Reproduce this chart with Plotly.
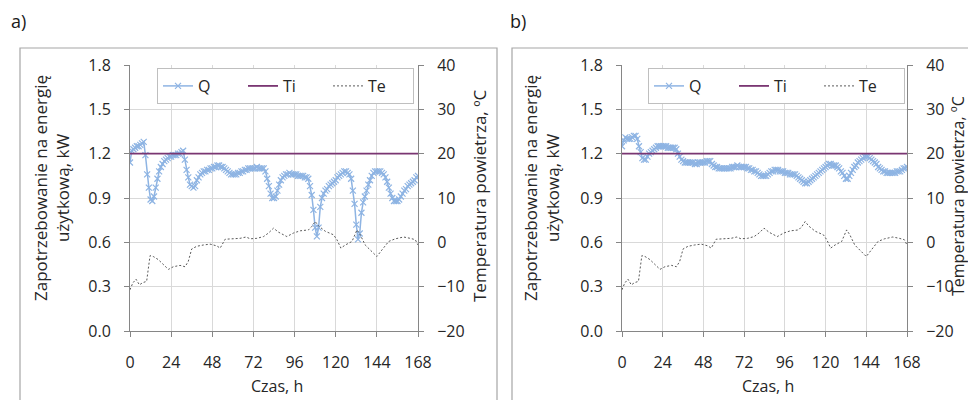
import plotly.graph_objects as go

hours = list(range(0, 169))
x_ticks = [0, 24, 48, 72, 96, 120, 144, 168]

q_a = [1.14, 1.22, 1.23, 1.24, 1.25, 1.25, 1.26, 1.27, 1.28, 1.19,
       1.06, 0.97, 0.89, 0.88, 0.91, 0.97, 1.03, 1.08, 1.11, 1.13,
       1.15, 1.16, 1.17, 1.18, 1.18, 1.19, 1.19, 1.19, 1.20, 1.20,
       1.21, 1.22, 1.16, 1.09, 1.04, 0.99, 0.98, 0.97, 0.98, 1.02,
       1.04, 1.06, 1.07, 1.08, 1.08, 1.09, 1.09, 1.10, 1.10, 1.11,
       1.11, 1.12, 1.12, 1.11, 1.11, 1.10, 1.09, 1.08, 1.07, 1.06,
       1.06, 1.06, 1.06, 1.07, 1.07, 1.08, 1.08, 1.09, 1.09, 1.10,
       1.10, 1.10, 1.10, 1.10, 1.11, 1.10, 1.10, 1.10, 1.10, 1.08,
       1.03, 0.98, 0.93, 0.90, 0.90, 0.91, 0.95, 0.99, 1.02, 1.04,
       1.05, 1.06, 1.06, 1.07, 1.06, 1.06, 1.06, 1.06, 1.05, 1.05,
       1.05, 1.05, 1.04, 1.04, 1.03, 0.98, 0.92, 0.82, 0.70, 0.64,
       0.70, 0.84, 0.90, 0.93, 0.95, 0.96, 0.98, 0.99, 1.00, 1.01,
       1.02, 1.04, 1.05, 1.06, 1.07, 1.08, 1.08, 1.07, 1.06, 1.03,
       0.95, 0.86, 0.72, 0.62, 0.66, 0.80, 0.87, 0.91, 0.95, 0.99,
       1.02, 1.05, 1.07, 1.08, 1.08, 1.08, 1.08, 1.07, 1.06, 1.04,
       1.01, 0.97, 0.93, 0.90, 0.88, 0.88, 0.88, 0.89, 0.91, 0.93,
       0.95, 0.96, 0.98, 0.99, 1.00, 1.01, 1.02, 1.04, 1.05]

q_b = [1.25, 1.29, 1.31, 1.30, 1.30, 1.30, 1.31, 1.32, 1.32, 1.30,
       1.25, 1.21, 1.17, 1.16, 1.16, 1.18, 1.20, 1.21, 1.22, 1.23,
       1.24, 1.25, 1.25, 1.25, 1.25, 1.25, 1.25, 1.24, 1.24, 1.24,
       1.24, 1.24, 1.23, 1.20, 1.18, 1.16, 1.15, 1.14, 1.14, 1.14,
       1.14, 1.14, 1.14, 1.13, 1.13, 1.14, 1.14, 1.14, 1.14, 1.14,
       1.15, 1.15, 1.15, 1.13, 1.12, 1.11, 1.11, 1.10, 1.10, 1.10,
       1.10, 1.10, 1.10, 1.10, 1.10, 1.11, 1.11, 1.11, 1.12, 1.11,
       1.11, 1.11, 1.11, 1.11, 1.10, 1.10, 1.09, 1.09, 1.08, 1.08,
       1.07, 1.06, 1.05, 1.05, 1.05, 1.05, 1.06, 1.07, 1.08, 1.08,
       1.09, 1.09, 1.09, 1.08, 1.08, 1.08, 1.07, 1.07, 1.07, 1.06,
       1.06, 1.06, 1.06, 1.05, 1.04, 1.03, 1.02, 1.01, 1.00, 1.00,
       1.01, 1.02, 1.03, 1.04, 1.05, 1.06, 1.07, 1.08, 1.09, 1.10,
       1.11, 1.12, 1.13, 1.13, 1.12, 1.12, 1.12, 1.11, 1.10, 1.08,
       1.07, 1.05, 1.03, 1.03, 1.05, 1.07, 1.09, 1.11, 1.12, 1.14,
       1.15, 1.16, 1.17, 1.18, 1.18, 1.18, 1.17, 1.16, 1.15, 1.14,
       1.13, 1.11, 1.10, 1.09, 1.08, 1.08, 1.07, 1.07, 1.07, 1.07,
       1.07, 1.07, 1.08, 1.08, 1.08, 1.09, 1.10, 1.10, 1.11]

te_hours = [0, 1.6, 3.5, 5.5, 7.4, 9.7, 11.7, 13.6, 16.5, 19.5, 22.4, 25.3,
            29.2, 32.1, 34, 36, 38.9, 42.8, 46.7, 50.6, 52.6, 55.5, 60.3,
            64.2, 67.7, 70.1, 74, 77.9, 80.8, 83.7, 86.6, 91.5, 95.4, 99.3,
            104.1, 106.1, 108, 110, 113.9, 118.7, 120.7, 123, 125.6, 129.5,
            132.4, 134.3, 137.2, 141.1, 144, 147, 150.9, 154.8, 159.6,
            163.5, 166.4, 168]
te_vals = [-10.7, -9.2, -8.3, -9.6, -9.1, -8.8, -3.0, -3.2, -3.9, -5.1, -6.1,
           -5.5, -5.2, -5.5, -4.3, -1.5, -0.9, -0.6, -0.4, -0.8, -1.3, 0.7,
           0.8, 0.9, 1.2, 0.8, 0.9, 1.3, 2.1, 3.2, 2.3, 1.3, 2.1, 2.6, 2.8,
           3.6, 4.7, 3.7, 2.5, 1.7, 0.6, -1.3, -0.6, 0.2, 2.8, 1.7, -0.6,
           -2.2, -3.2, -1.7, 0.2, 0.8, 1.2, 0.9, 0.6, -0.6]

ti_hours = [0, 168]
ti_vals = [20, 20]

y1_ticks = [0.0, 0.3, 0.6, 0.9, 1.2, 1.5, 1.8]
y2_ticks = [-20, -10, 0, 10, 20, 30, 40]

panel_labels = ["a)", "b)"]
y1_title = "Zapotrzebowanie na energię<br>użytkową, kW"
y2_title = "Temperatura powietrza, ºC"
x_title = "Czas, h"

Q_COLOR = "#8EB4E3"
TI_COLOR = "#7A3672"
TE_COLOR = "#595959"
GRID = "#D9D9D9"
AXIS = "#868686"
TXT = "#262626"
FONT = "Open Sans"

W, H = 976, 400
OFF = 8  # page body margin


def px(x):
    return (x - OFF) / W


def py(y):
    return 1 - (y - OFF) / H


fig = go.Figure()

panels = [
    dict(q=q_a, xd=(130, 418), leg=(157, 68), suffix=("", "2"), legend="legend",
         y1t=52, y2t=479, y2size=17),
    dict(q=q_b, xd=(622, 907), leg=(648, 68), suffix=("3", "4"), legend="legend2",
         y1t=542, y2t=958, y2size=16),
]
ytop, ybot = 65, 331

for i, p in enumerate(panels):
    xa = "x" + p["suffix"][0]
    ya = "y" + p["suffix"][0]
    ya2 = "y" + p["suffix"][1]
    fig.add_trace(go.Scatter(
        x=hours, y=p["q"], name="Q", mode="lines+markers",
        line=dict(color=Q_COLOR, width=1.5),
        marker=dict(symbol="x-thin", size=6, line=dict(color=Q_COLOR, width=1.2)),
        xaxis=xa, yaxis=ya, legend=p["legend"]))
    fig.add_trace(go.Scatter(
        x=ti_hours, y=ti_vals, name="Ti", mode="lines",
        line=dict(color=TI_COLOR, width=1.8),
        xaxis=xa, yaxis=ya2, legend=p["legend"]))
    fig.add_trace(go.Scatter(
        x=te_hours, y=te_vals, name="Te", mode="lines",
        line=dict(color=TE_COLOR, width=1, dash="2px,2px"),
        xaxis=xa, yaxis=ya2, legend=p["legend"]))

    xdom = [px(p["xd"][0]), px(p["xd"][1])]
    ydom = [py(ybot), py(ytop)]
    xkey = "xaxis" + p["suffix"][0]
    ykey = "yaxis" + p["suffix"][0]
    y2key = "yaxis" + p["suffix"][1]
    fig.update_layout(**{
        xkey: dict(domain=xdom, range=[0, 168], tickvals=x_ticks,
                   showgrid=True, gridcolor=GRID, gridwidth=1,
                   showline=True, linecolor=AXIS, linewidth=1,
                   ticks="outside", ticklen=5, tickcolor=AXIS,
                   zeroline=False, anchor=ya, automargin=False,
                   ticklabelstandoff=12,
                   tickfont=dict(family=FONT, size=16, color=TXT)),
        ykey: dict(domain=ydom, range=[0, 1.8], tickvals=y1_ticks,
                   tickformat=".1f", showgrid=True, gridcolor=GRID, gridwidth=1,
                   showline=True, linecolor=AXIS, linewidth=1,
                   ticks="outside", ticklen=5, tickcolor=AXIS,
                   zeroline=False, anchor=xa, automargin=False,
                   ticklabelstandoff=10,
                   tickfont=dict(family=FONT, size=16, color=TXT)),
        y2key: dict(domain=ydom, range=[-20, 40], tickvals=y2_ticks,
                    overlaying=ya, side="right", anchor=xa, automargin=False,
                    showgrid=False, showline=True, linecolor=AXIS, linewidth=1,
                    ticks="outside", ticklen=5, tickcolor=AXIS, zeroline=False,
                    ticklabelstandoff=10,
                    tickfont=dict(family=FONT, size=16, color=TXT)),
        p["legend"]: dict(orientation="h", x=px(p["leg"][0]), y=py(p["leg"][1]),
                          xanchor="left", yanchor="top",
                          bordercolor="#BFBFBF", borderwidth=1, bgcolor="white",
                          entrywidth=40, entrywidthmode="pixels",
                          font=dict(family=FONT, size=16, color=TXT)),
    })
    # axis titles
    fig.add_annotation(text=y1_title, xref="paper", yref="paper",
                       x=px(p["y1t"]), y=py(188), textangle=-90,
                       xanchor="center", yanchor="middle", showarrow=False,
                       font=dict(family=FONT, size=17, color=TXT))
    fig.add_annotation(text=y2_title, xref="paper", yref="paper",
                       x=px(p["y2t"]), y=py(196), textangle=-90,
                       xanchor="center", yanchor="middle", showarrow=False,
                       font=dict(family=FONT, size=p["y2size"], color=TXT))
    fig.add_annotation(text=x_title, xref="paper", yref="paper",
                       x=px((p["xd"][0] + p["xd"][1]) / 2 + 3), y=py(386),
                       xanchor="center", yanchor="middle", showarrow=False,
                       font=dict(family=FONT, size=16, color=TXT))

# outer chart frames and panel labels
for x0, x1 in [(20, 497), (512, 1000)]:
    fig.add_shape(type="rect", xref="paper", yref="paper",
                  x0=px(x0), x1=px(x1), y0=-0.1, y1=py(48),
                  line=dict(color="#A6A6A6", width=1.2), layer="below")
for lbl, lx in zip(panel_labels, [9, 508]):
    fig.add_annotation(text=lbl, xref="paper", yref="paper", x=px(lx), y=py(21),
                       xanchor="left", yanchor="middle", showarrow=False,
                       font=dict(family=FONT, size=18, color="#1a1a1a"))

fig.update_layout(width=W, height=H, margin=dict(l=0, r=0, t=0, b=0, autoexpand=False),
                  paper_bgcolor="white", plot_bgcolor="white", showlegend=True)
fig.write_html("out.html")
